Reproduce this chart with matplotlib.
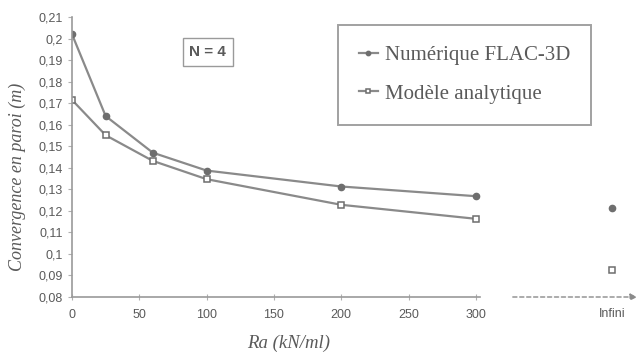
import matplotlib
matplotlib.use("Agg")
import matplotlib.pyplot as plt
from matplotlib.ticker import MultipleLocator, FuncFormatter

# donnees
ra = [0, 25, 60, 100, 200, 300]
num_flac = [0.202, 0.164, 0.147, 0.1387, 0.1313, 0.1268]
mod_analytique = [0.1715, 0.1551, 0.1432, 0.1347, 0.1228, 0.1163]
infini_label = ["Infini"]
num_infini = [0.1212]
ana_infini = [0.0924]

gris_ligne = "#8a8a8a"
gris_marq = "#6e6e6e"
gris_texte = "#5a5a5a"

fig = plt.figure(figsize=(6.42, 3.61), dpi=100)
ax = fig.add_axes([72/642, 1-297/361, 408/642, 280/361])

ax.plot(ra, num_flac, color=gris_ligne, lw=1.6, marker="o", ms=4.5,
        mfc=gris_marq, mec=gris_marq, label="Numérique FLAC-3D")
ax.plot(ra, mod_analytique, color=gris_ligne, lw=1.6, marker="s", ms=5,
        mfc="white", mec=gris_marq, mew=1.1, label="Modèle analytique")

ax.set_xlim(0, 303)
ax.set_ylim(0.08, 0.21)
ax.xaxis.set_major_locator(MultipleLocator(50))
ax.yaxis.set_major_locator(MultipleLocator(0.01))
ax.yaxis.set_major_formatter(FuncFormatter(lambda v, p: ("%g" % round(v, 3)).replace(".", ",")))
for s in ["top", "right"]:
    ax.spines[s].set_visible(False)
for s in ["left", "bottom"]:
    ax.spines[s].set_color("#9a9a9a")
    ax.spines[s].set_linewidth(1.2)
ax.tick_params(axis="x", direction="inout", length=5, color="#b0b0b0", pad=6,
               labelsize=9, labelcolor=gris_texte)
ax.tick_params(axis="y", direction="out", length=3, color="#b0b0b0",
               labelsize=9, labelcolor=gris_texte)
for t in ax.get_xticklabels() + ax.get_yticklabels():
    t.set_family("Liberation Sans")

ax.set_xlabel("Ra (kN/ml)", family="Liberation Serif", style="italic",
              fontsize=13.5, color=gris_texte)
ax.xaxis.set_label_coords(0.53, -0.135)
ax.set_ylabel("Convergence en paroi (m)", family="Liberation Serif", style="italic",
              fontsize=13, color=gris_texte)
ax.yaxis.set_label_coords(-0.112, 0.43)

ax.text(0.333, 0.875, "N = 4", transform=ax.transAxes, ha="center", va="center",
        family="Liberation Sans", fontsize=11, fontweight="bold", color=gris_texte,
        bbox=dict(boxstyle="square,pad=0.45", fc="white", ec="#9a9a9a", lw=1))

leg = fig.legend(loc="upper left", bbox_to_anchor=(338/642, 1-25/361),
                 prop={"family": "Liberation Serif", "size": 15},
                 handlelength=0.9, handletextpad=0.35, labelspacing=0.9,
                 borderpad=1.0, fancybox=False, edgecolor="#8a8a8a",
                 labelcolor=gris_texte, markerscale=0.7, borderaxespad=0)
leg.get_frame().set_linewidth(1.4)

# zone "infini"
ax2 = fig.add_axes([510/642, 1-297/361, 130/642, 280/361], sharey=ax)
ax2.plot(infini_label, num_infini, ls="none", marker="o", ms=4.5,
         mfc=gris_marq, mec=gris_marq)
ax2.plot(infini_label, ana_infini, ls="none", marker="s", ms=5,
         mfc="white", mec=gris_marq, mew=1.1)
ax2.set_xlim(-0.785, 0.215)
for s in ax2.spines.values():
    s.set_visible(False)
ax2.tick_params(axis="y", left=False, labelleft=False)
ax2.tick_params(axis="x", length=0, pad=8, labelsize=9, labelcolor=gris_texte)
for t in ax2.get_xticklabels():
    t.set_family("Liberation Sans")
ax2.annotate("", xy=(1.0, 0.0), xytext=(0.0, 0.0), xycoords="axes fraction",
             arrowprops=dict(arrowstyle="-|>", ls=(0, (3, 2)), color="#8a8a8a",
                             lw=1, mutation_scale=10))

fig.savefig("out.png", dpi=100)
